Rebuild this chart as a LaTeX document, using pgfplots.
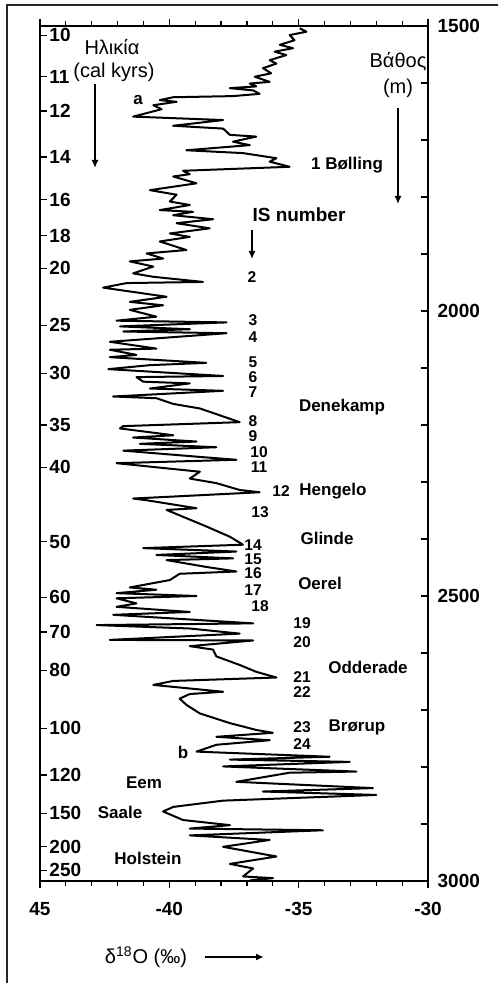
\documentclass[border=0pt]{standalone}
\usepackage{fontspec}
\setmainfont{Liberation Sans}
\usepackage{pgfplots}
\pgfplotsset{compat=1.18}
\usepackage{pgfplotstable}
\usetikzlibrary{arrows.meta}

\pgfplotstableread{
d z
-34.96 1504
-34.70 1510
-35.35 1516
-35.16 1525
-35.73 1533
-35.22 1539
-35.93 1545
-35.48 1551
-36.12 1560
-35.86 1566
-36.38 1574
-36.06 1583
-36.70 1589
-36.12 1598
-36.89 1601
-36.64 1606
-37.66 1609
-36.76 1613
-36.51 1619
-37.54 1623
-39.85 1625
-40.37 1630
-39.72 1633
-40.62 1639
-40.30 1646
-41.40 1659
-37.92 1665
-39.85 1675
-37.92 1680
-37.66 1691
-36.64 1694
-37.54 1703
-36.89 1709
-39.34 1718
-37.15 1723
-35.86 1732
-36.12 1738
-35.35 1747
-39.47 1754
-39.21 1760
-39.85 1764
-38.95 1776
-40.75 1788
-39.72 1796
-39.98 1808
-39.21 1814
-40.37 1823
-39.08 1826
-39.85 1832
-38.31 1839
-39.72 1846
-38.44 1855
-39.98 1864
-39.21 1870
-40.37 1878
-39.34 1893
-40.88 1899
-40.24 1908
-41.53 1913
-40.62 1922
-41.40 1934
-40.62 1940
-38.70 1949
-41.65 1951
-42.56 1959
-40.11 1975
-41.53 1984
-40.24 1990
-41.53 1998
-40.50 2010
-42.04 2017
-37.79 2020
-41.91 2027
-39.21 2032
-41.78 2036
-37.79 2039
-42.30 2054
-40.50 2066
-42.30 2068
-41.27 2077
-42.30 2081
-38.57 2091
-40.75 2095
-42.36 2102
-37.92 2114
-41.27 2116
-41.01 2124
-39.21 2127
-40.75 2136
-37.92 2140
-42.17 2150
-40.50 2153
-39.85 2163
-38.82 2171
-37.92 2185
-37.28 2195
-41.78 2202
-41.91 2206
-39.85 2218
-41.40 2222
-38.95 2229
-41.14 2233
-38.18 2239
-41.78 2245
-38.82 2256
-37.41 2261
-42.04 2267
-40.11 2276
-38.82 2282
-39.21 2294
-38.18 2302
-37.28 2314
-36.51 2318
-41.40 2329
-40.88 2332
-38.95 2346
-40.11 2349
-39.47 2361
-38.57 2378
-37.66 2396
-37.15 2410
-41.01 2416
-37.41 2422
-40.50 2428
-37.53 2434
-40.11 2437
-38.57 2449
-37.41 2457
-39.60 2461
-39.98 2472
-41.53 2485
-40.50 2489
-42.04 2495
-38.95 2500
-42.04 2504
-41.27 2513
-42.04 2519
-39.21 2528
-42.17 2533
-36.76 2548
-42.81 2551
-39.21 2557
-37.28 2566
-42.30 2577
-36.76 2578
-39.21 2588
-38.31 2594
-38.18 2606
-37.28 2621
-36.64 2633
-35.86 2643
-39.85 2649
-40.62 2656
-37.92 2668
-39.21 2672
-39.60 2680
-39.34 2691
-38.82 2706
-37.66 2723
-36.64 2735
-36.00 2740
-38.18 2747
-36.12 2753
-38.18 2761
-38.95 2773
-33.80 2782
-37.66 2787
-33.03 2791
-37.92 2799
-32.77 2808
-35.35 2810
-37.41 2826
-32.13 2837
-36.38 2843
-32.00 2849
-37.92 2859
-39.85 2870
-40.24 2878
-39.47 2893
-37.66 2902
-39.21 2908
-34.06 2911
-39.21 2920
-36.12 2928
-37.92 2940
-35.86 2957
-37.66 2970
-36.76 2978
-37.15 2992
-35.99 2995
-36.89 2999
}\curve

\newcommand\numfont{\fontsize{9.5}{11}\selectfont\bfseries}
\newcommand\lblfont{\fontsize{8.5}{10}\selectfont\bfseries}

\begin{document}
\begin{tikzpicture}
\path[use as bounding box] (0,0) rectangle (249pt,491.5pt);
\draw[line width=0.8pt, black!85] (3.5pt,0) -- (3.5pt,489pt) -- (249pt,489pt);

\begin{axis}[
  at={(20pt,51pt)}, anchor=south west,
  scale only axis, width=194pt, height=427.5pt,
  xmin=-45, xmax=-30, ymin=1500, ymax=3000,
  y dir=reverse,
  axis line style={line width=0.8pt},
  xtick={-45,-40,-35,-30},
  xticklabels={45,-40,-35,-30},
  minor x tick num=4,
  xtick pos=both,
  xtick align=outside,
  ytick={1516,1589,1649,1730,1805,1868,1925,2025,2109,2200,2274,2405,2502,2563,2630,2732,2814,2881,2940,2981},
  yticklabels={10,11,12,14,16,18,20,25,30,35,40,50,60,70,80,100,120,150,200,250},
  ytick pos=left,
  ytick align=inside,
  major tick length=3.5pt, minor tick length=2.5pt,
  tick style={black, line width=0.6pt},
  ticklabel style={font=\numfont},
  yticklabel style={anchor=west, xshift=1.2pt},
  xticklabel style={yshift=-3.5pt},
  /pgf/number format/assume math mode=true,
]
\addplot[black, line width=1pt, line join=round] table[x=d, y=z] {\curve};
\end{axis}

\begin{axis}[
  at={(20pt,51pt)}, anchor=south west,
  scale only axis, width=194pt, height=427.5pt,
  xmin=-45, xmax=-30, ymin=1500, ymax=3000,
  y dir=reverse,
  axis x line=none, axis y line*=right,
  axis line style={line width=0.8pt},
  ytick={1500,2000,2500,3000},
  yticklabels={1500,2000,2500,3000},
  minor ytick={1600,1700,1800,1900,2100,2200,2300,2400,2600,2700,2800,2900},
  ytick align=inside,
  major tick length=3.5pt, minor tick length=3.5pt,
  tick style={black, line width=0.6pt},
  ticklabel style={font=\numfont},
  yticklabel style={anchor=west, xshift=1.3pt},
  /pgf/number format/assume math mode=true,
]
\end{axis}

\begin{scope}[x=0.5pt, y=-0.5pt, yshift=491.5pt]
\node[font=\fontsize{10}{12}\selectfont] at (112,47) {Ηλικία};
\node[font=\fontsize{10}{12}\selectfont] at (114,72) {(cal kyrs)};
\draw[line width=0.7pt, -{Latex[length=4pt,width=3.5pt]}] (95,84) -- (95,168);
\node[font=\lblfont] at (138,100) {a};
\node[font=\fontsize{10}{12}\selectfont] at (398,62) {Βάθος};
\node[font=\fontsize{10}{12}\selectfont] at (398,88) {(m)};
\draw[line width=0.7pt, -{Latex[length=4pt,width=3.5pt]}] (398,108) -- (398,204);
\node[font=\lblfont] at (347,165) {1 Bølling};
\node[font=\fontsize{9.5}{11}\selectfont\bfseries] at (299,215) {IS number};
\draw[line width=0.7pt, -{Latex[length=4pt,width=3.5pt]}] (252,230) -- (252,259);
\begin{scope}[every node/.style={font=\fontsize{7.8}{9}\selectfont\bfseries, inner sep=0pt}]
\node at (252,277) {2};
\node at (253,320) {3};
\node at (253,337) {4};
\node at (253,362) {5};
\node at (253,377) {6};
\node at (253,392) {7};
\node at (253,421) {8};
\node at (253,436) {9};
\node at (259,452) {10};
\node at (259,467) {11};
\node at (281,491) {12};
\node at (260,512) {13};
\node at (253,545) {14};
\node at (253,559) {15};
\node at (253,573) {16};
\node at (253,590) {17};
\node at (260,606) {18};
\node at (302,623) {19};
\node at (302,642) {20};
\node at (302,677) {21};
\node at (302,692) {22};
\node at (302,727) {23};
\node at (302,744) {24};
\end{scope}
\node[font=\lblfont] at (342,407) {Denekamp};
\node[font=\lblfont] at (333,491) {Hengelo};
\node[font=\lblfont] at (327,538) {Glinde};
\node[font=\lblfont] at (320,583) {Oerel};
\node[font=\lblfont] at (368,667) {Odderade};
\node[font=\lblfont] at (357,727) {Brørup};
\node[font=\lblfont] at (183,752) {b};
\node[font=\lblfont] at (144,783) {Eem};
\node[font=\lblfont] at (120,812) {Saale};
\node[font=\lblfont] at (148,858) {Holstein};
\node[font=\fontsize{10}{12}\selectfont] at (146,957) {δ\textsuperscript{18}O (‰)};
\draw[line width=0.8pt, -{Latex[length=4pt,width=3.5pt]}] (205,957) -- (264,957);
\end{scope}
\end{tikzpicture}
\end{document}
